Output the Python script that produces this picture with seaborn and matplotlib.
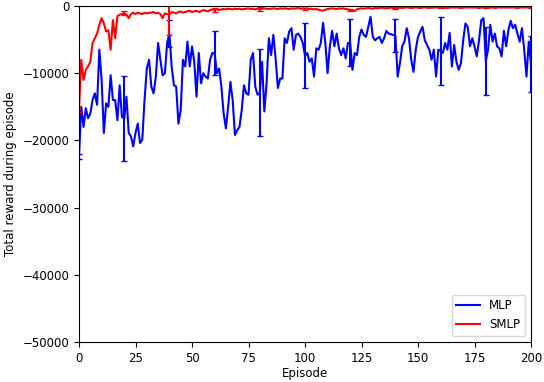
import numpy as np
import pandas as pd
import matplotlib
matplotlib.use("Agg")
import matplotlib.pyplot as plt
import seaborn as sns

plt.rcParams["font.size"] = 8.5

# valores
episodes = list(range(201))

mlp = [
    -22400, -15000, -18000, -15200, -16700, -16000, -14000, -13000, -14700, -6500,
    -11000, -18900, -14500, -15000, -10300, -14000, -14000, -17000, -11800, -16500,
    -16750, -13500, -18900, -19400, -20900, -18900, -17500, -20400, -19900, -14000,
    -9300, -8000, -12000, -13000, -10500, -5500, -8000, -10300, -10000, -5500,
    -4100, -9000, -11800, -12000, -17500, -15500, -8000, -9000, -5300, -9000,
    -6000, -8300, -13500, -7000, -11500, -10000, -10500, -10800, -8000, -7000,
    -7000, -10000, -9300, -12000, -16000, -18200, -15000, -11300, -14000, -19200,
    -18500, -18000, -15500, -11800, -13000, -13200, -8000, -7000, -12000, -13200,
    -12900, -8300, -15700, -11500, -4800, -7300, -4300, -7800, -12200, -10800,
    -10800, -4800, -5500, -3800, -3300, -6500, -4300, -4100, -4600, -5500,
    -7400, -7000, -8300, -7800, -10500, -6300, -6500, -5500, -2500, -5500,
    -10000, -6000, -3700, -6000, -4100, -6300, -7300, -6300, -7800, -5500,
    -5500, -9500, -7000, -7300, -4600, -3500, -4300, -4600, -3100, -1600,
    -4600, -5100, -4800, -4600, -5500, -4800, -3700, -4100, -4200, -4300,
    -4400, -10500, -8500, -6000, -5300, -3300, -4800, -8000, -9800, -6500,
    -4600, -3800, -3100, -5100, -5800, -6500, -8000, -6500, -10500, -6500,
    -6700, -7000, -5500, -6500, -4000, -9000, -5800, -8300, -9500, -8500,
    -5100, -2600, -3100, -6000, -4800, -6000, -7500, -5100, -2100, -1800,
    -8200, -6500, -2800, -5300, -4100, -6000, -6300, -7500, -3700, -6000,
    -3600, -2200, -3300, -2800, -4100, -5300, -3300, -6500, -10500, -5300,
    -8600,
]

smlp = [
    -15500, -8000, -11000, -9500, -9000, -8300, -5500, -4800, -4100, -2800,
    -1800, -2600, -3800, -3600, -6500, -2100, -4800, -1500, -1300, -1200,
    -1100, -1300, -1800, -1200, -1000, -1200, -1000, -1100, -1200, -1000,
    -1100, -1000, -1000, -900, -1100, -1000, -1200, -1800, -1100, -1200,
    -1300, -900, -1000, -1100, -900, -800, -1000, -900, -800, -700,
    -900, -800, -700, -900, -800, -600, -700, -800, -600, -500,
    -600, -500, -600, -500, -450, -500, -400, -450, -500, -400,
    -450, -400, -500, -450, -400, -350, -450, -400, -500, -400,
    -450, -400, -350, -400, -450, -400, -350, -400, -450, -350,
    -400, -350, -400, -450, -350, -400, -350, -300, -400, -350,
    -400, -350, -450, -400, -500, -450, -550, -650, -700, -550,
    -450, -400, -350, -400, -450, -350, -400, -350, -450, -500,
    -600, -650, -750, -500, -400, -350, -400, -350, -300, -350,
    -400, -300, -350, -300, -250, -300, -350, -300, -250, -300,
    -250, -300, -250, -300, -250, -200, -250, -300, -250, -200,
    -250, -300, -250, -200, -250, -300, -250, -250, -200, -250,
    -250, -200, -250, -300, -250, -200, -250, -200, -250, -300,
    -250, -200, -250, -200, -250, -200, -250, -300, -250, -200,
    -250, -200, -250, -200, -300, -250, -200, -250, -200, -250,
    -200, -250, -200, -250, -300, -250, -200, -250, -200, -250,
    -250,
]

# barras de error cada 20 episodios
mlp_err = [400, 6300, 1950, 3300, 6500, 4800, 3500, 2400, 5000, 5100, 4200]
smlp_err = [300, 300, 3000, 300, 300, 150, 200, 150, 100, 100, 100]

df = pd.DataFrame({
    "Episode": episodes * 2,
    "Reward": mlp + smlp,
    "Model": ["MLP"] * len(mlp) + ["SMLP"] * len(smlp),
})

fig, ax = plt.subplots(figsize=(5.44, 3.82), dpi=100)
fig.subplots_adjust(left=79 / 544, right=531 / 544, top=1 - 6 / 382, bottom=1 - 342 / 382)

sns.lineplot(data=df, x="Episode", y="Reward", hue="Model",
             palette={"MLP": "blue", "SMLP": "red"}, linewidth=1.5, ax=ax)

ax.errorbar(episodes[::20], mlp[::20], yerr=mlp_err, fmt="none",
            ecolor="blue", elinewidth=1.5, capsize=2)
ax.errorbar(episodes[::20], smlp[::20], yerr=smlp_err, fmt="none",
            ecolor="red", elinewidth=1.5, capsize=2)

ax.set_xlim(0, 200)
ax.set_ylim(-50000, 0)
ax.set_xticks(range(0, 201, 25))
ax.set_yticks(range(-50000, 1, 10000))
ax.set_xlabel("Episode", labelpad=2)
ax.set_ylabel("Total reward during episode")

handles, labels = ax.get_legend_handles_labels()
ax.legend(handles, labels, loc="lower right")

fig.savefig("out.png", dpi=100)
